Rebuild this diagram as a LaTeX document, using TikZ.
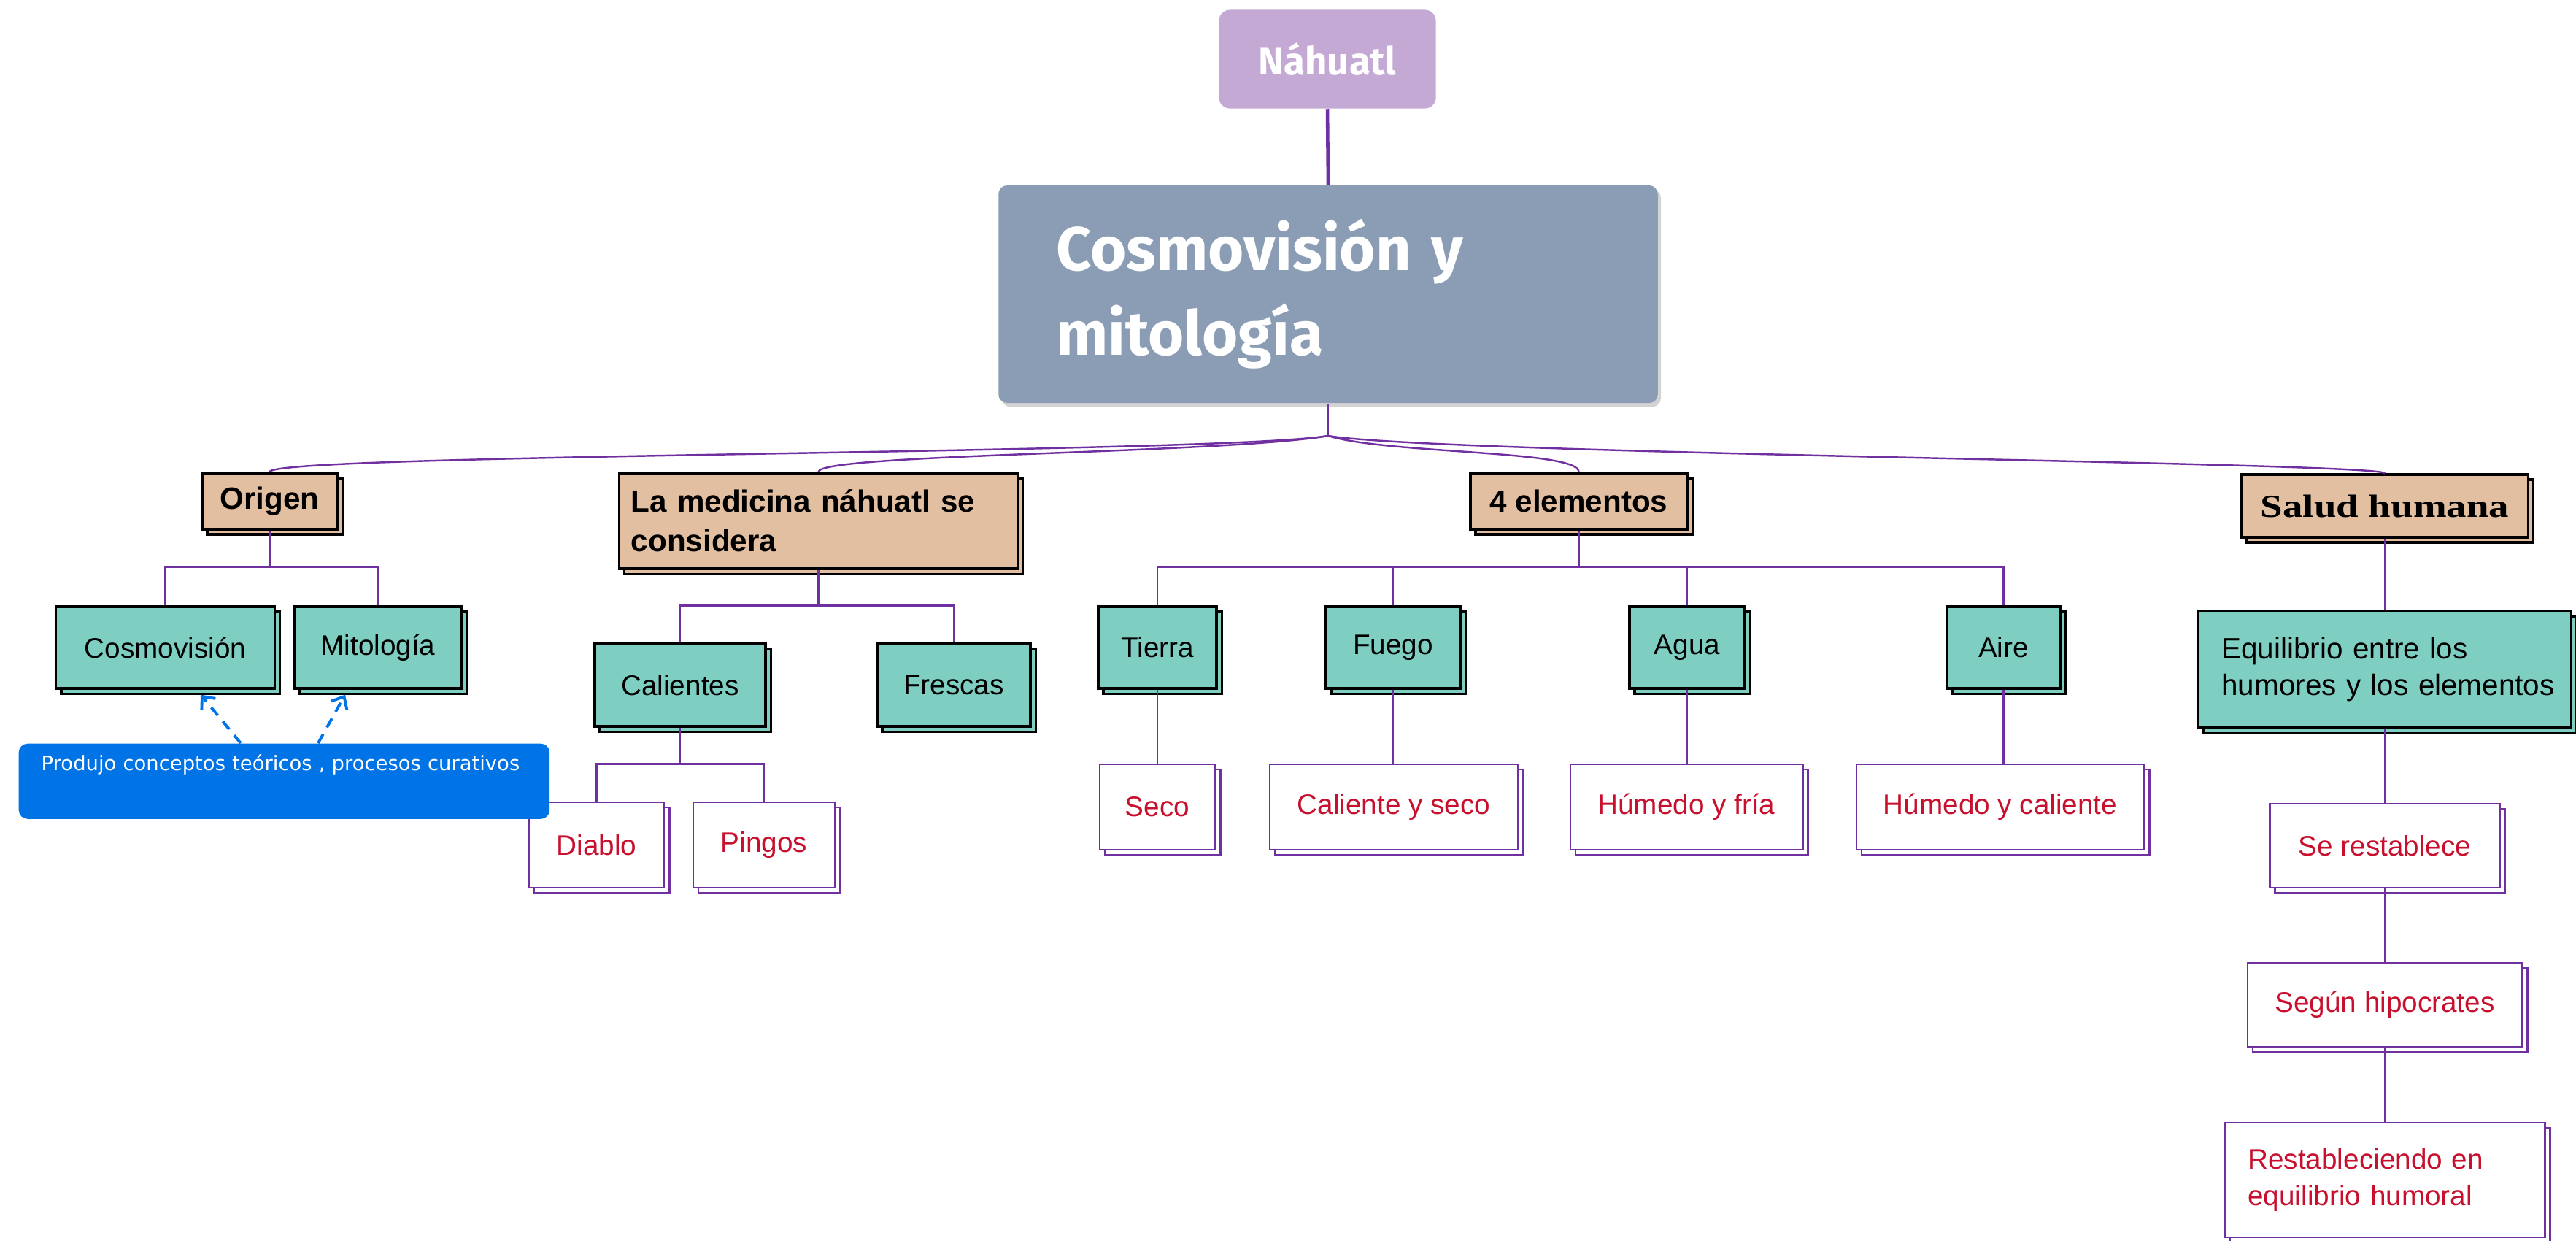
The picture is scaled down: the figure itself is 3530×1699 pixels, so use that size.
\documentclass[tikz,border=0pt]{standalone}
\usepackage{fontspec}
\setmainfont{Liberation Sans}
\newfontfamily\firafont{Fira Sans}
\newfontfamily\notefont{DejaVu Sans}
\newfontfamily\saludfont[FakeStretch=1.25]{Liberation Serif}
\usepackage{tikz}
\usetikzlibrary{shadows, arrows.meta}
\definecolor{lavnode}{HTML}{C3A9D3}
\definecolor{slatenode}{HTML}{8B9DB5}
\definecolor{tannode}{HTML}{E2BFA1}
\definecolor{tealnode}{HTML}{7FCEC2}
\definecolor{purpline}{HTML}{7030A0}
\definecolor{redtext}{HTML}{C8102E}
\definecolor{bluenote}{HTML}{0073E6}

\begin{document}
\begin{tikzpicture}[x=0.01cm, y=-0.01cm,
	conn/.style={draw=purpline, line width=0.7pt},
	hdbox/.style={draw=black, line width=0.9pt, fill=tannode, inner sep=0pt,
		copy shadow={shadow xshift=2pt, shadow yshift=-2pt},
		font=\bfseries\fontsize{12}{15.3}\selectfont},
	tealbox/.style={draw=black, line width=0.9pt, fill=tealnode, inner sep=0pt,
		copy shadow={shadow xshift=2pt, shadow yshift=-2pt},
		font=\fontsize{11}{13}\selectfont},
	leafbox/.style={draw=purpline, line width=0.8pt, fill=white, text=redtext, inner sep=0pt,
		copy shadow={shadow xshift=2pt, shadow yshift=-2pt},
		font=\fontsize{11}{14}\selectfont},
	notearrow/.style={draw=bluenote, line width=1.1pt, dash pattern=on 4pt off 3pt,
		-{Straight Barb[length=4pt, width=7pt]}}]

	\useasboundingbox (0, 0) rectangle (3530, 1699);

	% top of the map
	\node[fill=lavnode, rounded corners=0.15cm, minimum width=2.97cm, minimum height=1.35cm,
		text=white, font=\firafont\bfseries\fontsize{15}{18}\selectfont] (nahuatl) at (1819, 81) {Náhuatl};
	\node[fill=slatenode, rounded corners=0.12cm, minimum width=9.03cm, minimum height=2.98cm,
		drop shadow={shadow xshift=1.2pt, shadow yshift=-1.5pt, opacity=0.35},
		text width=7.45cm, inner xsep=0.79cm, align=left, text=white,
		font=\firafont\bfseries\fontsize{24}{33}\selectfont] (titulo) at (1820, 403) {Cosmovisión y\\mitología};
	\coordinate (hub) at (1820, 597);

	% headers
	\node[hdbox, minimum width=1.85cm, minimum height=0.77cm] (origen) at (369.5, 686.5) {Origen};
	\node[hdbox, minimum width=5.45cm, minimum height=1.31cm, text width=5.13cm, inner xsep=0.16cm,
		align=left] (medicina) at (1121.5, 713.5) {La medicina náhuatl se\\considera};
	\node[hdbox, minimum width=2.97cm, minimum height=0.77cm] (elementos) at (2163.5, 686.5) {4 elementos};
	\node[hdbox, minimum width=3.92cm, minimum height=0.86cm,
		font=\saludfont\bfseries\fontsize{12.5}{15}\selectfont] (salud) at (3268, 693) {Salud humana};

	% second row
	\node[tealbox, minimum width=2.99cm, minimum height=1.12cm] (cosmo) at (226.5, 887) {Cosmovisión};
	\node[tealbox, minimum width=2.30cm, minimum height=1.12cm] (mito) at (518, 887) {Mitología};
	\node[tealbox, minimum width=2.34cm, minimum height=1.13cm] (calientes) at (932, 938.5) {Calientes};
	\node[tealbox, minimum width=2.10cm, minimum height=1.13cm] (frescas) at (1307, 938.5) {Frescas};
	\node[tealbox, minimum width=1.62cm, minimum height=1.12cm] (tierra) at (1586, 887) {Tierra};
	\node[tealbox, minimum width=1.84cm, minimum height=1.12cm] (fuego) at (1909, 887) {Fuego};
	\node[tealbox, minimum width=1.58cm, minimum height=1.12cm] (agua) at (2312, 887) {Agua};
	\node[tealbox, minimum width=1.55cm, minimum height=1.12cm] (aire) at (2745.5, 887) {Aire};
	\node[tealbox, minimum width=5.11cm, minimum height=1.60cm, text width=4.79cm, inner xsep=0.16cm,
		align=left, font=\fontsize{11.5}{14}\selectfont] (equilibrio) at (3268, 917)
		{\hspace*{0.16cm}Equilibrio entre los\\\hspace*{0.16cm}humores y los elementos};

	% leaves
	\node[leafbox, minimum width=1.85cm, minimum height=1.17cm] (diablo) at (817.5, 1157.5) {Diablo};
	\node[leafbox, minimum width=1.94cm, minimum height=1.17cm] (pingos) at (1047, 1157.5) {Pingos};
	\node[leafbox, minimum width=1.58cm, minimum height=1.17cm] (seco) at (1586, 1105.5) {Seco};
	\node[leafbox, minimum width=3.40cm, minimum height=1.17cm] (calseco) at (1910, 1105.5) {Caliente y seco};
	\node[leafbox, minimum width=3.18cm, minimum height=1.17cm] (humfria) at (2311, 1105.5) {Húmedo y fría};
	\node[leafbox, minimum width=3.94cm, minimum height=1.17cm] (humcal) at (2741, 1105.5) {Húmedo y caliente};
	\node[leafbox, minimum width=3.15cm, minimum height=1.15cm] (restablece) at (3268, 1158.5) {Se restablece};
	\node[leafbox, minimum width=3.76cm, minimum height=1.15cm] (hipocrates) at (3268, 1376.5) {Según hipocrates};
	\node[leafbox, minimum width=4.39cm, minimum height=1.57cm, text width=3.75cm, inner xsep=0.32cm,
		align=left] (restableciendo) at (3268, 1616.5) {Restableciendo en\\equilibrio humoral};

	% connectors
	\draw[purpline, line width=1.3pt] (nahuatl.south) -- (titulo.north);
	\draw[conn] (titulo.south) -- (hub);
	\draw[conn] (hub) .. controls +(-150, 25) and +(0, -25) .. (origen.north);
	\draw[conn] (hub) .. controls +(-150, 25) and +(0, -25) .. (medicina.north);
	\draw[conn] (hub) .. controls +(80, 25) and +(0, -30) .. (elementos.north);
	\draw[conn] (hub) .. controls +(150, 25) and +(0, -15) .. (salud.north);

	\draw[conn] (origen.south) -- ++(0, 50) coordinate (origenbr);
	\draw[conn] (origenbr) -| (cosmo.north);
	\draw[conn] (origenbr) -| (mito.north);

	\draw[conn] (medicina.south) -- ++(0, 49) coordinate (medicinabr);
	\draw[conn] (medicinabr) -| (calientes.north);
	\draw[conn] (medicinabr) -| (frescas.north);

	\draw[conn] (calientes.south) -- ++(0, 50) coordinate (calientesbr);
	\draw[conn] (calientesbr) -| (diablo.north);
	\draw[conn] (calientesbr) -| (pingos.north);

	\draw[conn] (elementos.south) -- ++(0, 50) coordinate (elementosbr);
	\foreach \el in {tierra, fuego, agua, aire}
		\draw[conn] (elementosbr) -| (\el.north);
	\draw[conn] (tierra.south) -- (tierra.south |- seco.north);
	\draw[conn] (fuego.south) -- (fuego.south |- calseco.north);
	\draw[conn] (agua.south) -- (agua.south |- humfria.north);
	\draw[conn] (aire.south) -- (aire.south |- humcal.north);

	\draw[conn] (salud.south) -- (equilibrio.north);
	\draw[conn] (equilibrio.south) -- (restablece.north);
	\draw[conn] (restablece.south) -- (hipocrates.north);
	\draw[conn] (hipocrates.south) -- (restableciendo.north);

	% the note sits over the corner of Diablo
	\node[fill=bluenote, rounded corners=0.12cm, anchor=north west, inner sep=0pt,
		minimum width=7.27cm, minimum height=1.03cm, text width=6.65cm, inner xsep=0.31cm,
		text height=0.37cm, text depth=0.66cm, align=left, text=white,
		font=\notefont\fontsize{7.8}{10}\selectfont] (produjo) at (25, 1018)
		{Produjo conceptos teóricos , procesos curativos};
	\draw[notearrow] ([xshift=-0.595cm]produjo.north) -- ([xshift=0.485cm, yshift=-0.07cm]cosmo.south);
	\draw[notearrow] ([xshift=0.465cm]produjo.north) -- ([xshift=-0.45cm, yshift=-0.07cm]mito.south);
\end{tikzpicture}
\end{document}
